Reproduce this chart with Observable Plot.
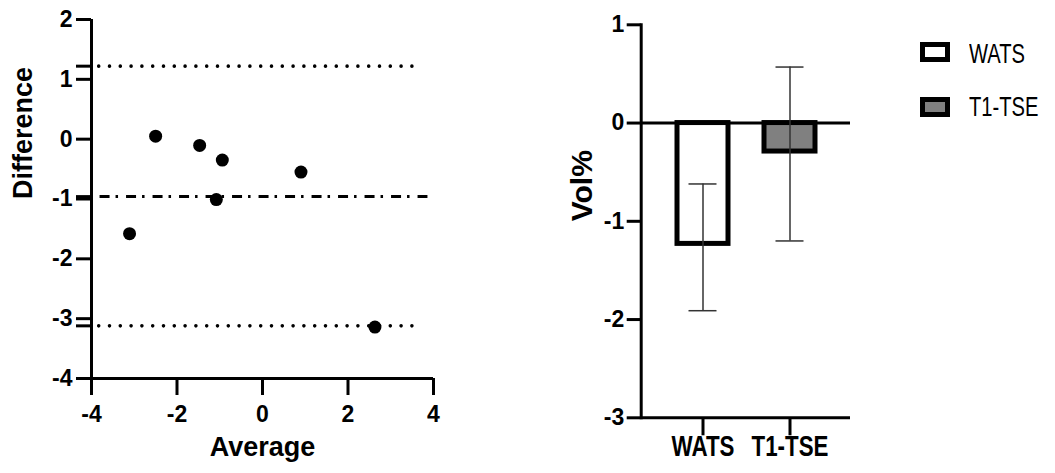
<!DOCTYPE html>
<html>
<head>
<meta charset="utf-8">
<script src="https://cdn.jsdelivr.net/npm/d3@7"></script>
<script src="https://cdn.jsdelivr.net/npm/@observablehq/plot@0.6"></script>
<style>
  html, body { margin: 0; padding: 0; background: white; }
  #wrap { position: relative; width: 1055px; height: 473px; overflow: hidden; background: white; }
  #left { position: absolute; left: 0; top: 0; }
  #right { position: absolute; left: 500px; top: 0; }
  .lg-box { position: absolute; width: 30px; height: 20px; box-sizing: border-box; border: 5px solid black; }
  .lg-text { position: absolute; font-family: "Liberation Sans", Arial, sans-serif; font-size: 28px; line-height: 28px; color: black; white-space: nowrap; transform: scaleX(0.72); transform-origin: left center; }
</style>
</head>
<body>
<div id="wrap">
  <div id="left"></div>
  <div id="right"></div>
  <div class="lg-box" style="left:920px; top:42px; background:white;"></div>
  <div class="lg-text" style="left:969px; top:40px;">WATS</div>
  <div class="lg-box" style="left:920px; top:97px; background:#808080;"></div>
  <div class="lg-text" style="left:969px; top:93px;">T1-TSE</div>
</div>
<script>
// ---- Bland-Altman data (left panel) ----
const average    = [-2.5, -1.47, -0.94, 0.90, -1.08, -3.11, 2.63];
const difference = [0.05, -0.105, -0.35, -0.55, -1.01, -1.58, -3.14];
const bias = -0.96;
const limits = [1.22, -3.12];
const xTicksLeft = [-4, -2, 0, 2, 4];
const yTicksLeft = [2, 1, 0, -1, -2, -3, -4];

// ---- Bar data (right panel) ----
const methods = ["WATS", "T1-TSE"];
const volMean = [-1.23, -0.29];
const volLow  = [-1.91, -1.2];
const volHigh = [-0.62, 0.57];
const barColors = ["white", "#808080"];
const yTicksRight = [1, 0, -1, -2, -3];

const points = average.map((a, i) => ({avg: a, diff: difference[i]}));
const bars = methods.map((m, i) => ({method: m, mean: volMean[i], low: volLow[i], high: volHigh[i]}));

const fmt = d => String(d);
const blank = () => "";
const baseFont = "'Liberation Sans', Arial, sans-serif";

const left = Plot.plot({
  width: 450, height: 473,
  marginLeft: 91, marginRight: 17, marginTop: 19, marginBottom: 95,
  x: {domain: [-4, 4], axis: null},
  y: {domain: [-4, 2], axis: null},
  style: {fontFamily: baseFont, color: "black", background: "white", overflow: "visible"},
  marks: [
    Plot.ruleY(limits, {x1: -3.82, x2: 3.73, stroke: "black", strokeWidth: 3.6, strokeDasharray: "0,10.8", strokeLinecap: "round"}),
    Plot.ruleY([bias], {x1: -3.8, x2: 3.87, stroke: "black", strokeWidth: 3, strokeDasharray: "10,6,2.5,8"}),
    Plot.axisY({ticks: yTicksLeft, tickFormat: blank, tickSize: 15, strokeWidth: 3, label: null}),
    Plot.axisY({ticks: [bias, ...limits], tickFormat: blank, tickSize: 15, strokeWidth: 3, label: null}),
    Plot.axisX({ticks: xTicksLeft, tickFormat: blank, tickSize: 17, strokeWidth: 3, label: null}),
    Plot.text(yTicksLeft, {y: d => d, text: fmt, frameAnchor: "left", textAnchor: "end", dx: -19, fontSize: 23, fontWeight: "bold"}),
    Plot.text(xTicksLeft, {x: d => d, text: fmt, frameAnchor: "bottom", lineAnchor: "top", dy: 27, fontSize: 23, fontWeight: "bold"}),
    Plot.ruleX([-4], {stroke: "black", strokeWidth: 3}),
    Plot.ruleY([-4], {stroke: "black", strokeWidth: 3}),
    Plot.dot(points, {x: "avg", y: "diff", r: 6.5, fill: "black", stroke: "none"}),
    Plot.text(["Difference"], {frameAnchor: "left", dx: -68, rotate: -90, fontSize: 27, fontWeight: "bold"}),
    Plot.text(["Average"], {frameAnchor: "bottom", dy: 77, fontSize: 27, fontWeight: "bold"})
  ]
});
document.getElementById("left").appendChild(left);

const right = Plot.plot({
  width: 370, height: 473,
  marginLeft: 140.7, marginRight: 20, marginTop: 24.3, marginBottom: 55.7,
  x: {domain: methods, paddingInner: 0.418, paddingOuter: 0.405, axis: null},
  y: {domain: [-3, 1], axis: null},
  color: {domain: methods, range: barColors},
  style: {fontFamily: baseFont, color: "black", background: "white", overflow: "visible"},
  marks: [
    Plot.barY(bars, {x: "method", y: "mean", fill: "method", stroke: "black", strokeWidth: 5}),
    Plot.ruleY([0], {stroke: "black", strokeWidth: 3}),
    Plot.ruleY([-3], {stroke: "black", strokeWidth: 3}),
    Plot.frame({anchor: "left", stroke: "black", strokeWidth: 3}),
    Plot.ruleX(bars, {x: "method", y1: "low", y2: "high", stroke: "#333", strokeWidth: 1.5}),
    Plot.tickY(bars, {x: "method", y: "low", insetLeft: 11.5, insetRight: 11.5, stroke: "#333", strokeWidth: 1.5}),
    Plot.tickY(bars, {x: "method", y: "high", insetLeft: 11.5, insetRight: 11.5, stroke: "#333", strokeWidth: 1.5}),
    Plot.axisY({ticks: yTicksRight, tickFormat: blank, tickSize: 14, strokeWidth: 3, label: null}),
    Plot.axisX({tickFormat: blank, tickSize: 18, strokeWidth: 3, label: null}),
    Plot.text(yTicksRight, {y: d => d, text: fmt, frameAnchor: "left", textAnchor: "end", dx: -17, fontSize: 23, fontWeight: "bold"}),
    Plot.text(bars, {x: "method", text: "method", frameAnchor: "bottom", dy: 38, fontSize: 29, fontWeight: "bold", className: "narrow"}),
    Plot.text(["Vol%"], {frameAnchor: "left", dx: -59, rotate: -90, fontSize: 30, fontWeight: "bold"})
  ]
});
document.getElementById("right").appendChild(right);

// condense the category labels like the reference's narrow face
right.querySelectorAll(".narrow text").forEach(t => {
  const w = t.getComputedTextLength();
  t.setAttribute("textLength", (w * 0.77).toFixed(1));
  t.setAttribute("lengthAdjust", "spacingAndGlyphs");
});
</script>
</body>
</html>
